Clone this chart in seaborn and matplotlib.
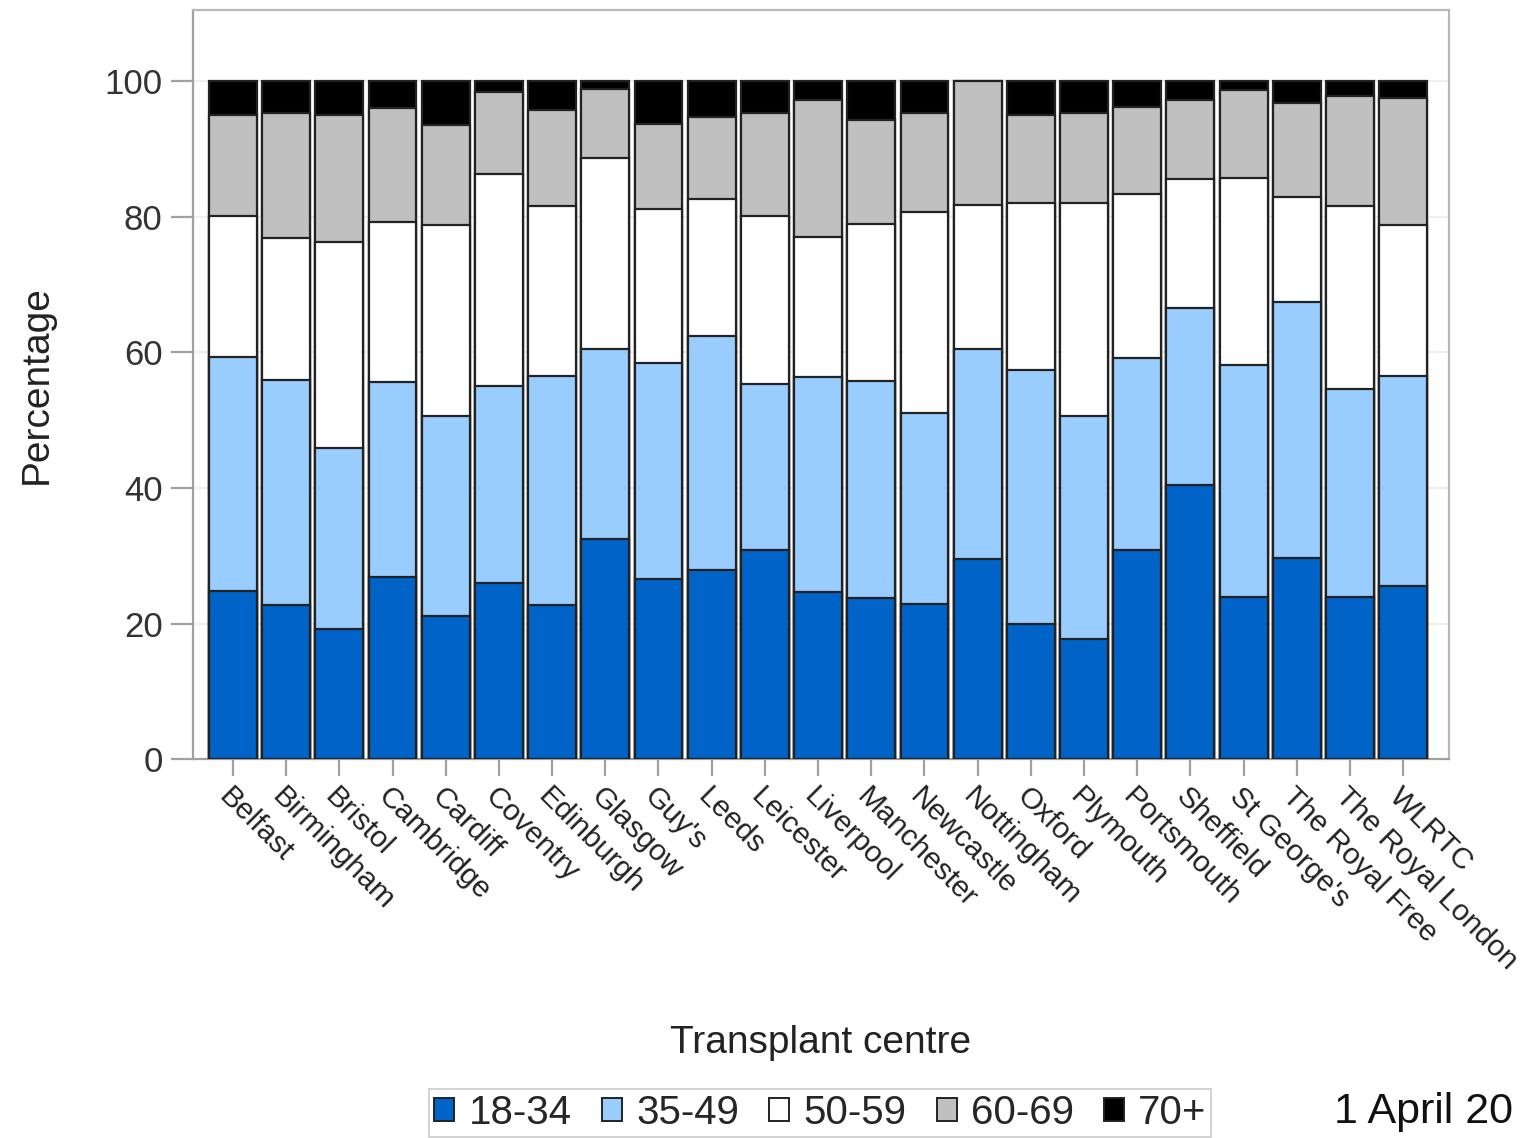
import numpy as np
import pandas as pd
import matplotlib
matplotlib.use('Agg')
import matplotlib.pyplot as plt
from matplotlib.patches import Patch
import seaborn as sns

# Data (percentage of patients per age group)
centres = ['Belfast', 'Birmingham', 'Bristol', 'Cambridge', 'Cardiff', 'Coventry',
           'Edinburgh', 'Glasgow', "Guy's", 'Leeds', 'Leicester', 'Liverpool',
           'Manchester', 'Newcastle', 'Nottingham', 'Oxford', 'Plymouth', 'Portsmouth',
           'Sheffield', "St George's", 'The Royal Free', 'The Royal London', 'WLRTC']
age_groups = ['18-34', '35-49', '50-59', '60-69', '70+']

age_18_34 = [24.8, 22.7, 19.2, 26.9, 21.1, 26.0, 22.8, 32.4, 26.6, 27.9, 30.9, 24.7,
             23.7, 22.9, 29.5, 20.0, 17.7, 30.8, 40.5, 23.9, 29.7, 23.9, 25.5]
age_35_49 = [34.6, 33.2, 26.7, 28.7, 29.5, 29.0, 33.7, 28.1, 31.9, 34.5, 24.5, 31.7,
             32.1, 28.2, 31.0, 37.4, 32.9, 28.4, 26.1, 34.3, 37.7, 30.7, 31.0]
age_50_59 = [20.7, 21.0, 30.4, 23.6, 28.2, 31.4, 25.1, 28.2, 22.7, 20.3, 24.7, 20.6,
             23.1, 29.6, 21.3, 24.7, 31.5, 24.2, 19.0, 27.6, 15.5, 27.0, 22.3]
age_60_69 = [15.0, 18.4, 18.8, 16.9, 14.7, 12.0, 14.2, 10.2, 12.5, 12.0, 15.3, 20.2,
             15.4, 14.6, 18.2, 12.9, 13.3, 12.8, 11.6, 13.0, 13.9, 16.2, 18.8]
age_70_plus = [4.9, 4.7, 4.9, 3.9, 6.5, 1.6, 4.2, 1.1, 6.3, 5.3, 4.6, 2.8,
               5.7, 4.7, 0.0, 5.0, 4.6, 3.8, 2.8, 1.2, 3.2, 2.2, 2.4]

colors = ['#0063C8', '#99CCFF', '#FFFFFF', '#C0C0C0', '#000000']

df = pd.DataFrame({'centre': centres, '18-34': age_18_34, '35-49': age_35_49,
                   '50-59': age_50_59, '60-69': age_60_69, '70+': age_70_plus})
cum = df[age_groups].cumsum(axis=1)
cum['centre'] = df['centre']

sns.set_style('white')
plt.rcParams['font.family'] = ['Liberation Sans', 'DejaVu Sans']

fig = plt.figure(figsize=(15.25, 11.38), dpi=100)
ax = fig.add_axes([0.1266, 0.333, 0.8235, 0.658])

# stacked bars: draw cumulative totals from top group down
for grp, col in reversed(list(zip(age_groups, colors))):
    sns.barplot(data=cum, x='centre', y=grp, order=centres, color=col,
                width=0.9, edgecolor='#222222', linewidth=1.6, saturation=1,
                ax=ax, zorder=3)

ax.set_ylim(0, 110.5)
ax.set_xlim(-0.75, len(centres) - 0.14)
ax.set_yticks([0, 20, 40, 60, 80, 100])
ax.yaxis.grid(True, color='#ebebeb', linewidth=1.2, zorder=0)
ax.set_axisbelow(True)

for s in ax.spines.values():
    s.set_color('#b8b8b8')
    s.set_linewidth(1.6)
ax.spines['left'].set_color('#a0a0a0')
ax.spines['bottom'].set_color('#a0a0a0')

ax.tick_params(axis='y', length=16, width=1.6, color='#a0a0a0', labelsize=25,
               labelcolor='#333333', pad=6, left=True)
ax.tick_params(axis='x', length=12, width=1.6, color='#a0a0a0', labelsize=21.5,
               labelcolor='#222222', pad=5, bottom=True)
ax.set_xticks(range(len(centres)))
ax.set_xticklabels(centres, rotation=-45, ha='left', va='top', rotation_mode='anchor')

ax.set_xlabel('Transplant centre', fontsize=28, color='#222222')
ax.set_ylabel('Percentage', fontsize=28, color='#222222')
ax.xaxis.set_label_coords(0.5, -0.355)
ax.yaxis.set_label_coords(-0.11, 0.5)

handles = [Patch(facecolor=c, edgecolor='#222222', linewidth=1.4) for c in colors]
leg = fig.legend(handles, age_groups, loc='upper center', bbox_to_anchor=(0.538, 0.043),
                 ncol=5, fontsize=29, frameon=True, fancybox=False,
                 handlelength=0.5, handleheight=0.5, handletextpad=0.35,
                 columnspacing=0.75, borderpad=0.12, borderaxespad=0)
leg.get_frame().set_edgecolor('#c8c8c8')
leg.get_frame().set_linewidth(1.5)

fig.text(0.875, 0.023, '1 April 20', fontsize=31, va='center', ha='left', color='#111111')

fig.savefig('out.png', dpi=100)
